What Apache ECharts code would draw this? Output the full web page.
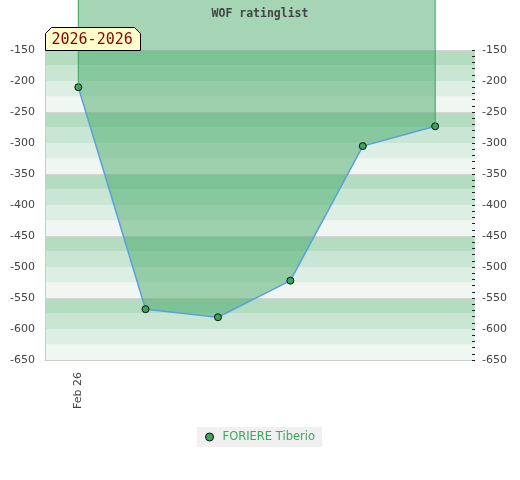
<!DOCTYPE html>
<html><head><meta charset="utf-8">
<script src="https://cdn.jsdelivr.net/npm/echarts@6/dist/echarts.min.js"></script>
<style>html,body{margin:0;padding:0;background:#fff}#c{width:520px;height:480px}</style>
</head><body><div id="c"></div>
<script>
const chartTitle = 'WOF ratinglist';
const playerName = 'FORIERE Tiberio';
const dates = ['2026-02-26', '2026-03-11', '2026-03-25', '2026-04-08', '2026-04-22', '2026-05-06'];
const ratings = [-210, -568, -581, -522, -305, -273];
const yMin = -650, yMax = -150, yStep = 50;
const xLabelDates = ['2026-02-26'];
const xLabelTexts = ['Feb 26'];
const areaBase = 0;
const stripeColors = ['#f0f7f2', '#ddefe4', '#c8e6d3', '#b3dcc1'];

const DAY = 86400000;
const t0 = Date.parse(dates[0]);
const dayOf = d => Math.round((Date.parse(d) - t0) / DAY);
const xs = dates.map(dayOf);
const xFirst = xs[0], xLast = xs[xs.length - 1];
const xMin = -6.44, xMax = 76.7;
const rangeText = dates[0].slice(0, 4) + '-' + dates[dates.length - 1].slice(0, 4);
const labelMap = {};
xLabelDates.forEach((d, i) => { labelMap[dayOf(d)] = xLabelTexts[i]; });

const chart = echarts.init(document.getElementById('c'));
const lblFont = { fontFamily: 'DejaVu Sans', fontSize: 11, color: '#444' };
chart.setOption({
  animation: false,
  title: {
    text: chartTitle, left: 'center', top: 8, padding: 0,
    textStyle: { fontFamily: 'DejaVu Sans Mono', fontWeight: 'bold', fontSize: 11.5, color: '#444' }
  },
  grid: { left: 45, right: 45, top: 50, bottom: 120, containLabel: false },
  legend: {
    data: [playerName], left: 'center', top: 427, icon: 'circle',
    itemWidth: 8, itemHeight: 8, itemGap: 6,
    backgroundColor: '#f0f0f0', padding: [4, 7, 4, 8], borderRadius: 0,
    itemStyle: { color: '#3da35d', borderColor: '#111', borderWidth: 1 },
    textStyle: { fontFamily: 'DejaVu Sans', fontSize: 11.5, color: '#3aaa5c', padding: [0, 0, 0, 4] }
  },
  xAxis: {
    type: 'value', min: xMin, max: xMax,
    axisLine: { show: true, onZero: false, lineStyle: { color: '#cccccc' } },
    axisTick: { show: false },
    splitLine: { show: false },
    axisLabel: Object.assign({
      customValues: xLabelDates.map(dayOf), rotate: 90, margin: 12,
      formatter: v => labelMap[v] || ''
    }, lblFont)
  },
  yAxis: [
    {
      type: 'value', position: 'left', min: yMin, max: yMax, interval: yStep,
      axisLine: { show: true, onZero: false, lineStyle: { color: '#cccccc' } },
      axisTick: { show: false }, splitLine: { show: false },
      axisLabel: Object.assign({ margin: 10 }, lblFont)
    },
    {
      type: 'value', position: 'right', min: yMin, max: yMax, interval: yStep,
      axisLine: { show: false, onZero: false },
      axisTick: { show: true, inside: true, length: 3, lineStyle: { color: '#222' } },
      minorTick: { show: true, splitNumber: 5, length: 3, lineStyle: { color: '#222' } },
      splitLine: { show: false },
      axisLabel: Object.assign({ margin: 7 }, lblFont)
    },
    {
      type: 'value', position: 'left', min: 0, max: yMax - yMin, interval: 25,
      axisLine: { show: false, onZero: false }, axisTick: { show: false }, axisLabel: { show: false },
      splitLine: { show: false },
      splitArea: { show: true, areaStyle: { color: stripeColors } }
    },
    {
      type: 'value', position: 'left', min: 0, max: yMax - yMin, interval: 100,
      axisLine: { show: false, onZero: false }, axisTick: { show: false }, axisLabel: { show: false },
      splitLine: { show: true, lineStyle: { color: '#d4d4d4', width: 1 } }
    }
  ],
  graphic: [{
    type: 'group', left: 45, top: 27, z: 100,
    children: [
      { type: 'polygon', z: 100, shape: { points: [[6, 0], [89, 0], [95, 6], [95, 23], [0, 23], [0, 6]] },
        style: { fill: '#ffffcc', stroke: '#000', lineWidth: 1 } },
      { type: 'text', z: 101, x: 6, y: 12.5, style: { text: rangeText, fill: '#8b0000',
        font: '15px "DejaVu Sans Mono"', textVerticalAlign: 'middle' } }
    ]
  }],
  series: [
    {
      type: 'line', name: playerName, yAxisIndex: 0, clip: false, z: 3,
      data: xs.map((x, i) => [x, ratings[i]]),
      symbol: 'circle', symbolSize: 7,
      itemStyle: { color: '#3da35d', borderColor: '#111', borderWidth: 1 },
      lineStyle: { color: '#5aa0dc', width: 1.5 },
      areaStyle: { origin: areaBase, color: 'rgb(64,166,98)', opacity: 0.47 }
    },
    {
      type: 'line', name: 'edgeStart', yAxisIndex: 0, clip: false, z: 4, silent: true,
      data: [[xFirst, areaBase], [xFirst, ratings[0]]], symbol: 'none',
      lineStyle: { color: '#3a9f5a', width: 1 }
    },
    {
      type: 'line', name: 'edgeEnd', yAxisIndex: 0, clip: false, z: 4, silent: true,
      data: [[xLast, areaBase], [xLast, ratings[ratings.length - 1]]], symbol: 'none',
      lineStyle: { color: '#3a9f5a', width: 1 }
    }
  ]
});
</script></body></html>
